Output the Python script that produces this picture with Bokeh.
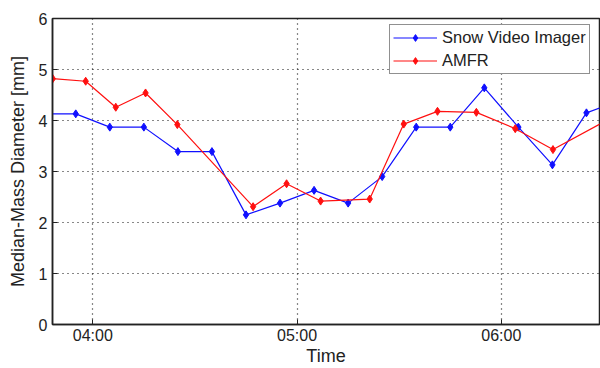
import pandas as pd
from bokeh.plotting import figure
from bokeh.models import Range1d, DatetimeTickFormatter, FixedTicker, Legend, LegendItem
from bokeh.embed import file_html
from bokeh.resources import INLINE

DAY = "2010-01-01 "

svi_times = ["03:45:00", "03:55:00", "04:05:00", "04:15:00", "04:25:00", "04:35:00",
             "04:45:00", "04:55:00", "05:05:00", "05:15:00", "05:25:00", "05:35:00",
             "05:45:00", "05:55:00", "06:05:00", "06:15:00", "06:25:00", "06:35:00"]
svi_values = [4.13, 4.13, 3.87, 3.87, 3.39, 3.39, 2.15, 2.38, 2.63, 2.38, 2.90, 3.87,
              3.87, 4.64, 3.87, 3.13, 4.15, 4.40]

amfr_times = ["03:48:15", "03:57:55", "04:06:45", "04:15:30", "04:24:50", "04:47:05",
              "04:56:55", "05:06:55", "05:21:20", "05:31:20", "05:41:15", "05:52:40",
              "06:04:05", "06:15:10", "06:35:00"]
amfr_values = [4.82, 4.77, 4.26, 4.54, 3.92, 2.31, 2.76, 2.42, 2.46, 3.93, 4.18, 4.16,
               3.84, 3.43, 4.15]

x_start, x_end = "03:48:10", "06:28:50"
x_ticks = ["04:00:00", "05:00:00", "06:00:00"]
y_ticks = [0, 1, 2, 3, 4, 5, 6]
x_title = "Time"
y_title = "Median-Mass Diameter [mm]"

def ts(s):
    return pd.Timestamp(DAY + s)

def ms(s):
    return ts(s).timestamp() * 1000

sx = [ts(t) for t in svi_times]
ax = [ts(t) for t in amfr_times]

p = figure(width=600, height=368, x_axis_type="datetime", output_backend="svg",
           toolbar_location=None,
           x_range=Range1d(ts(x_start), ts(x_end)), y_range=Range1d(0, 6),
           min_border_left=52, min_border_top=18, min_border_right=1, min_border_bottom=44)

p.background_fill_color = "white"
p.border_fill_color = "white"
p.outline_line_color = "#222222"
p.outline_line_width = 1.5

FONT = "Liberation Sans"
p.xaxis.ticker = FixedTicker(ticks=[ms(t) for t in x_ticks])
p.xaxis.formatter = DatetimeTickFormatter(hours="%H:%M", minutes="%H:%M", hourmin="%H:%M")
p.yaxis.ticker = FixedTicker(ticks=y_ticks)

for axis in (p.xaxis, p.yaxis):
    axis.major_tick_in = 5
    axis.major_tick_out = 0
    axis.minor_tick_in = 0
    axis.minor_tick_out = 0
    axis.axis_line_color = "#222222"
    axis.axis_line_width = 1.5
    axis.major_tick_line_color = "#222222"
    axis.major_label_text_font = FONT
    axis.major_label_text_font_size = "16px"
    axis.major_label_text_color = "#222222"
    axis.axis_label_text_font = FONT
    axis.axis_label_text_font_size = "18px"
    axis.axis_label_text_font_style = "normal"
    axis.axis_label_text_color = "#222222"
    axis.major_label_standoff = 5

p.xaxis.major_label_standoff = 2
p.xaxis.axis_label = x_title
p.xaxis.axis_label_standoff = -1
p.yaxis.axis_label = y_title
p.yaxis.axis_label_standoff = 8

for g in (p.xgrid, p.ygrid):
    g.grid_line_color = "#111111"
    g.grid_line_dash = "1 4"
    g.grid_line_width = 1.2

blue = "#1010ff"
red = "#ff1010"
l1 = p.line(sx, svi_values, line_color=blue, line_width=1.2)
m1 = p.scatter(sx, svi_values, marker="diamond", size=8, color=blue)
l2 = p.line(ax, amfr_values, line_color=red, line_width=1.2)
m2 = p.scatter(ax, amfr_values, marker="diamond", size=8, color=red)

legend = Legend(items=[LegendItem(label="Snow Video Imager", renderers=[l1, m1]),
                       LegendItem(label="AMFR", renderers=[l2, m2])],
                location=(337, 250))
legend.border_line_color = "#222222"
legend.border_line_width = 1.5
legend.background_fill_color = "white"
legend.background_fill_alpha = 1
legend.label_text_font = FONT
legend.label_text_font_size = "16.5px"
legend.label_text_color = "#222222"
legend.padding = 3
legend.spacing = 4
legend.label_height = 17
legend.glyph_height = 17
legend.glyph_width = 44
legend.label_standoff = 5
legend.margin = 0
p.add_layout(legend)

open("out.html", "w").write(file_html(p, INLINE))
